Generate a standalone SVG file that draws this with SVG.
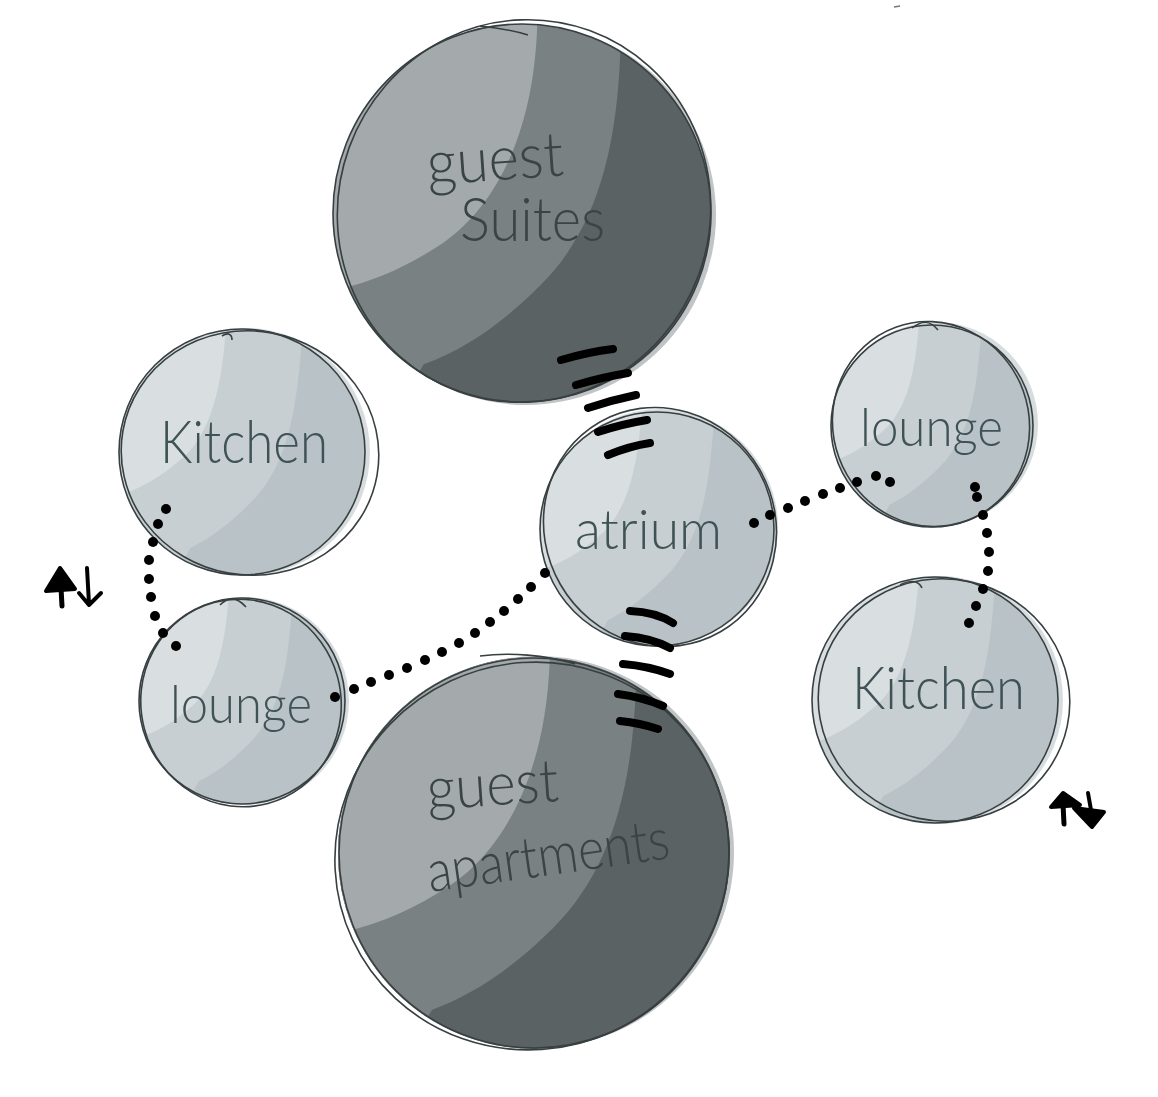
<svg xmlns="http://www.w3.org/2000/svg" xmlns:xlink="http://www.w3.org/1999/xlink" width="1158" height="1097" viewBox="0 0 1158 1097">
<style>
.ol{fill:none;stroke:#373f41;stroke-width:1.6}
.txt{font-family:Lato,"Open Sans","DejaVu Sans",sans-serif;font-weight:300;fill:#3a4446}
.txtL{font-family:Lato,"Open Sans","DejaVu Sans",sans-serif;font-weight:300;fill:#3f5256}
.dot{fill:#000}
.hatch{fill:none;stroke:#000;stroke-width:8;stroke-linecap:round}
.haloD{fill:#8c9395;opacity:0.55}
.haloL{fill:#cdd4d6;opacity:0.8}
.arw{fill:#000;stroke:#000;stroke-width:4;stroke-linecap:round;stroke-linejoin:round}
</style>
<defs>
<clipPath id="cu"><circle r="100"/></clipPath>
<g id="shadeDark" clip-path="url(#cu)">
<rect x="-105" y="-105" width="210" height="210" fill="#5b6264"/>
<path d="M 52,-110 L 52,-85 C 50,-30 38,10 10,38 C -10,58 -30,72 -52,80 L -70,110 L -110,110 L -110,-110 Z" fill="#7a8183"/>
<path d="M 8,-110 L 8,-98 C 6,-45 -12,-5 -42,16 C -60,28 -78,36 -96,40 L -110,40 L -110,-110 Z" fill="#a4aaab"/>
</g>
<g id="shadeLight" clip-path="url(#cu)">
<rect x="-105" y="-105" width="210" height="210" fill="#b9c3c7"/>
<path d="M 48,-110 L 48,-85 C 44,-30 36,8 12,36 C -6,55 -22,68 -42,78 L -60,110 L -110,110 L -110,-110 Z" fill="#c7cfd2"/>
<path d="M -12,-110 L -14,-90 C -18,-45 -28,-10 -52,8 C -64,18 -78,28 -96,34 L -110,34 L -110,-110 Z" fill="#d9dfe1"/>
</g>
</defs>
<rect width="1158" height="1097" fill="#fff"/>
<path d="M 894,7 L 900,6" stroke="#777" stroke-width="1.5"/>

<g id="node-guest-suites">
<circle cx="526" cy="215" r="190" class="haloD"/>
<use xlink:href="#shadeDark" transform="translate(522,213) scale(1.89)"/>
<circle cx="522" cy="213" r="189" class="ol"/>
<ellipse cx="524" cy="211" rx="186" ry="192" transform="rotate(20 524 211)" class="ol"/>
<path d="M 480,26 C 500,28 515,31 528,35" class="ol"/>
<text class="txt" x="428" y="185" font-size="62" textLength="137" lengthAdjust="spacingAndGlyphs" transform="rotate(-4 428 185)">guest</text>
<text class="txt" x="460" y="241" font-size="62" textLength="145" lengthAdjust="spacingAndGlyphs">Suites</text>
</g>

<g id="node-kitchen-left">
<circle cx="246" cy="452" r="124" class="haloL"/>
<use xlink:href="#shadeLight" transform="translate(242,452) scale(1.23)"/>
<circle cx="242" cy="452" r="123" class="ol"/>
<ellipse cx="250" cy="453" rx="129" ry="122" transform="rotate(10 250 453)" class="ol"/>
<path d="M 222,336 C 228,332 232,334 232,340" class="ol"/>
<text class="txtL" x="160" y="463" font-size="60" textLength="168" lengthAdjust="spacingAndGlyphs">Kitchen</text>
</g>

<g id="node-lounge-left">
<circle cx="245" cy="701" r="104" class="haloL"/>
<use xlink:href="#shadeLight" transform="translate(242,701) scale(1.03)"/>
<circle cx="242" cy="701" r="103" class="ol"/>
<ellipse cx="241" cy="703" rx="100" ry="104" transform="rotate(-15 241 703)" class="ol"/>
<path d="M 220,605 C 228,597 236,596 246,607" class="ol"/>
<text class="txtL" x="170" y="723" font-size="54" textLength="142" lengthAdjust="spacingAndGlyphs">lounge</text>
</g>

<g id="node-atrium">
<circle cx="660" cy="527" r="118" class="haloL"/>
<use xlink:href="#shadeLight" transform="translate(657,529) scale(1.17)"/>
<circle cx="657" cy="529" r="117" class="ol"/>
<ellipse cx="660" cy="527" rx="115" ry="121" transform="rotate(-30 660 527)" class="ol"/>
<text class="txtL" x="575" y="549" font-size="56" textLength="147" lengthAdjust="spacingAndGlyphs">atrium</text>
</g>

<g id="node-lounge-right">
<circle cx="936" cy="424" r="102" class="haloL"/>
<use xlink:href="#shadeLight" transform="translate(932,426) scale(1.01)"/>
<circle cx="932" cy="426" r="101" class="ol"/>
<ellipse cx="931" cy="424" rx="98" ry="103" transform="rotate(-20 931 424)" class="ol"/>
<path d="M 912,328 C 922,320 930,320 938,330" class="ol"/>
<text class="txtL" x="860" y="446" font-size="54" textLength="143" lengthAdjust="spacingAndGlyphs">lounge</text>
</g>

<g id="node-kitchen-right">
<circle cx="939" cy="700" r="124" class="haloL"/>
<use xlink:href="#shadeLight" transform="translate(935,700) scale(1.23)"/>
<circle cx="935" cy="700" r="123" class="ol"/>
<ellipse cx="944" cy="700" rx="126" ry="121" transform="rotate(12 944 700)" class="ol"/>
<path d="M 900,585 C 910,580 918,580 922,588" class="ol"/>
<text class="txtL" x="852" y="709" font-size="60" textLength="173" lengthAdjust="spacingAndGlyphs">Kitchen</text>
</g>

<g id="node-guest-apartments">
<circle cx="538" cy="852" r="196" class="haloD"/>
<use xlink:href="#shadeDark" transform="translate(534,853) scale(1.96)"/>
<circle cx="534" cy="853" r="195" class="ol"/>
<ellipse cx="532" cy="856" rx="198" ry="193" transform="rotate(-25 532 856)" class="ol"/>
<path d="M 480,656 C 510,652 545,655 575,664" class="ol"/>
<text class="txt" x="428" y="810" font-size="60" textLength="132" lengthAdjust="spacingAndGlyphs" transform="rotate(-4 428 810)">guest</text>
<text class="txt" x="430" y="892" font-size="58" textLength="244" lengthAdjust="spacingAndGlyphs" transform="rotate(-8 430 892)">apartments</text>
</g>

<g id="connectors">
<path class="hatch" d="M 561,360 Q 588,352 613,349"/>
<path class="hatch" d="M 576,385 Q 603,377 628,373"/>
<path class="hatch" d="M 588,408 Q 612,400 636,395"/>
<path class="hatch" d="M 598,432 Q 622,424 647,420"/>
<path class="hatch" d="M 608,455 Q 630,446 650,443"/>
<path class="hatch" d="M 630,611 Q 656,612 673,623"/>
<path class="hatch" d="M 625,636 Q 652,638 670,648"/>
<path class="hatch" d="M 623,664 Q 648,666 670,674"/>
<path class="hatch" d="M 618,694 Q 642,697 663,706"/>
<path class="hatch" d="M 620,721 Q 640,723 658,729"/>

<circle class="dot" cx="166" cy="509" r="5"/>
<circle class="dot" cx="158" cy="524" r="5"/>
<circle class="dot" cx="153" cy="542" r="5"/>
<circle class="dot" cx="149" cy="560" r="5"/>
<circle class="dot" cx="149" cy="579" r="5"/>
<circle class="dot" cx="151" cy="597" r="5"/>
<circle class="dot" cx="155" cy="616" r="5"/>
<circle class="dot" cx="163" cy="633" r="5"/>
<circle class="dot" cx="176" cy="646" r="5"/>

<circle class="dot" cx="335" cy="697" r="5"/>
<circle class="dot" cx="354" cy="689" r="5"/>
<circle class="dot" cx="371" cy="682" r="5"/>
<circle class="dot" cx="389" cy="675" r="5"/>
<circle class="dot" cx="407" cy="668" r="5"/>
<circle class="dot" cx="425" cy="660" r="5"/>
<circle class="dot" cx="442" cy="652" r="5"/>
<circle class="dot" cx="459" cy="643" r="5"/>
<circle class="dot" cx="475" cy="633" r="5"/>
<circle class="dot" cx="490" cy="622" r="5"/>
<circle class="dot" cx="504" cy="611" r="5"/>
<circle class="dot" cx="518" cy="599" r="5"/>
<circle class="dot" cx="531" cy="587" r="5"/>
<circle class="dot" cx="545" cy="573" r="5"/>

<circle class="dot" cx="754" cy="523" r="5"/>
<circle class="dot" cx="770" cy="515" r="5"/>
<circle class="dot" cx="788" cy="508" r="5"/>
<circle class="dot" cx="805" cy="501" r="5"/>
<circle class="dot" cx="823" cy="494" r="5"/>
<circle class="dot" cx="840" cy="488" r="5"/>
<circle class="dot" cx="857" cy="482" r="5"/>
<circle class="dot" cx="876" cy="476" r="5"/>
<circle class="dot" cx="890" cy="482" r="5"/>

<circle class="dot" cx="975" cy="487" r="5"/>
<circle class="dot" cx="977" cy="497" r="5"/>
<circle class="dot" cx="983" cy="515" r="5"/>
<circle class="dot" cx="987" cy="533" r="5"/>
<circle class="dot" cx="989" cy="552" r="5"/>
<circle class="dot" cx="988" cy="571" r="5"/>
<circle class="dot" cx="983" cy="589" r="5"/>
<circle class="dot" cx="976" cy="606" r="5"/>
<circle class="dot" cx="969" cy="623" r="5"/>
</g>

<g id="arrows-left">
<path class="arw" d="M 60,568 L 46,591 L 75,589 Z"/>
<path d="M 61,588 L 62,606" stroke="#000" stroke-width="5" stroke-linecap="round" fill="none"/>
<path d="M 87,568 L 89,604 M 79,593 L 89,605 L 101,593" stroke="#000" stroke-width="4" stroke-linecap="round" stroke-linejoin="round" fill="none"/>
</g>
<g id="arrows-right">
<path class="arw" d="M 1063,793 L 1051,807 L 1080,805 Z"/>
<path d="M 1063,804 L 1064,824" stroke="#000" stroke-width="5" stroke-linecap="round" fill="none"/>
<path d="M 1088,793 L 1091,810" stroke="#000" stroke-width="4" stroke-linecap="round" fill="none"/>
<path class="arw" d="M 1074,808 L 1104,812 L 1092,827 Z"/>
</g>
</svg>
